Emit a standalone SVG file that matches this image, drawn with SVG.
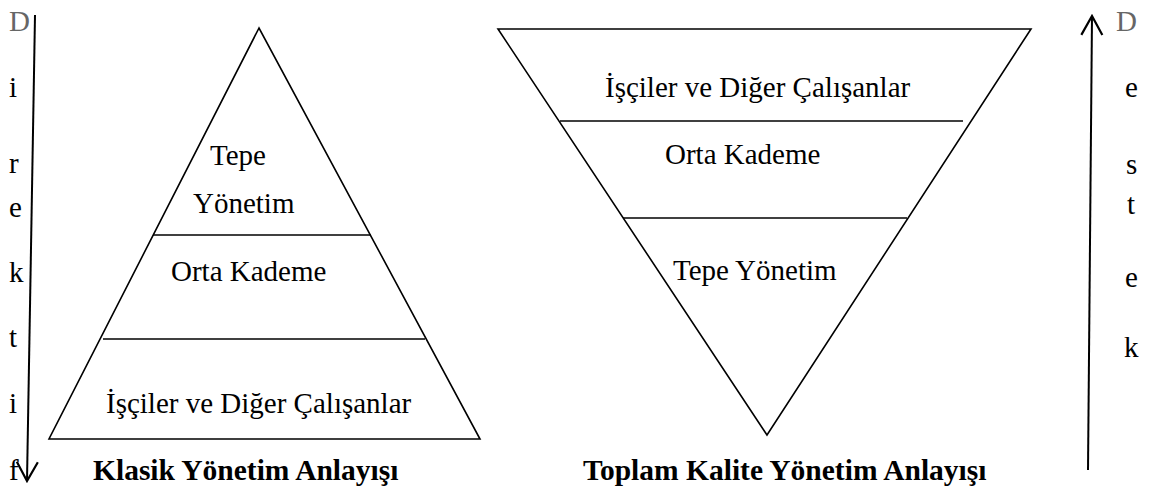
<svg xmlns="http://www.w3.org/2000/svg" width="1155" height="488" viewBox="0 0 1155 488">
<defs>
<style>
.t{font-family:"Liberation Serif","Times New Roman",serif;font-size:29px;fill:#000}
.b{font-weight:bold;font-size:29.5px}
.g{fill:#666}
.s{fill:none;stroke:#000;stroke-width:1.6}
.a{fill:none;stroke:#000;stroke-width:2}
</style>
<marker id="arr" viewBox="0 0 22 24" refX="20" refY="12" markerWidth="22" markerHeight="24" markerUnits="userSpaceOnUse" orient="auto">
<path d="M1,1.5 L20,12 L1,22.5" fill="none" stroke="#000" stroke-width="2.2"/>
</marker>
</defs>
<g id="connectors">
<line class="a" x1="35" y1="15" x2="27" y2="481" marker-end="url(#arr)"/>
<line class="a" x1="1088" y1="470" x2="1092" y2="16" marker-end="url(#arr)"/>
</g>
<g id="direktif-label">
<text class="t g" x="9" y="31">D</text>
<text class="t" x="9" y="97">i</text>
<text class="t" x="9" y="173">r</text>
<text class="t" x="9" y="217">e</text>
<text class="t" x="9" y="282">k</text>
<text class="t" x="9" y="347">t</text>
<text class="t" x="9" y="413">i</text>
<text class="t" x="9" y="480">f</text>
</g>
<g id="destek-label">
<text class="t g" x="1116" y="31">D</text>
<text class="t" x="1125" y="97">e</text>
<text class="t" x="1126" y="174">s</text>
<text class="t" x="1127" y="214">t</text>
<text class="t" x="1125" y="287">e</text>
<text class="t" x="1124" y="357">k</text>
</g>
<g id="klasik-pyramid">
<polygon class="s" points="259,28 49,439 480,439"/>
<line class="s" x1="153" y1="235" x2="371" y2="235"/>
<line class="s" x1="103" y1="339" x2="425" y2="339"/>
</g>
<g id="klasik-tepe">
<text class="t" x="210" y="165">Tepe</text>
<text class="t" x="193" y="213">Yönetim</text>
</g>
<g id="klasik-orta">
<text class="t" x="171" y="281">Orta Kademe</text>
</g>
<g id="klasik-isciler">
<text class="t" x="106" y="413">İşçiler ve Diğer Çalışanlar</text>
</g>
<g id="klasik-title">
<text class="t b" x="93" y="480">Klasik Yönetim Anlayışı</text>
</g>
<g id="tkm-pyramid">
<polygon class="s" points="498,29 1031,29 767,435"/>
<line class="s" x1="560" y1="121" x2="963" y2="121"/>
<line class="s" x1="623" y1="218" x2="907" y2="218"/>
</g>
<g id="tkm-isciler">
<text class="t" x="605" y="97">İşçiler ve Diğer Çalışanlar</text>
</g>
<g id="tkm-orta">
<text class="t" x="665" y="164">Orta Kademe</text>
</g>
<g id="tkm-tepe">
<text class="t" x="673" y="280">Tepe Yönetim</text>
</g>
<g id="tkm-title">
<text class="t b" x="583" y="480">Toplam Kalite Yönetim Anlayışı</text>
</g>
</svg>
